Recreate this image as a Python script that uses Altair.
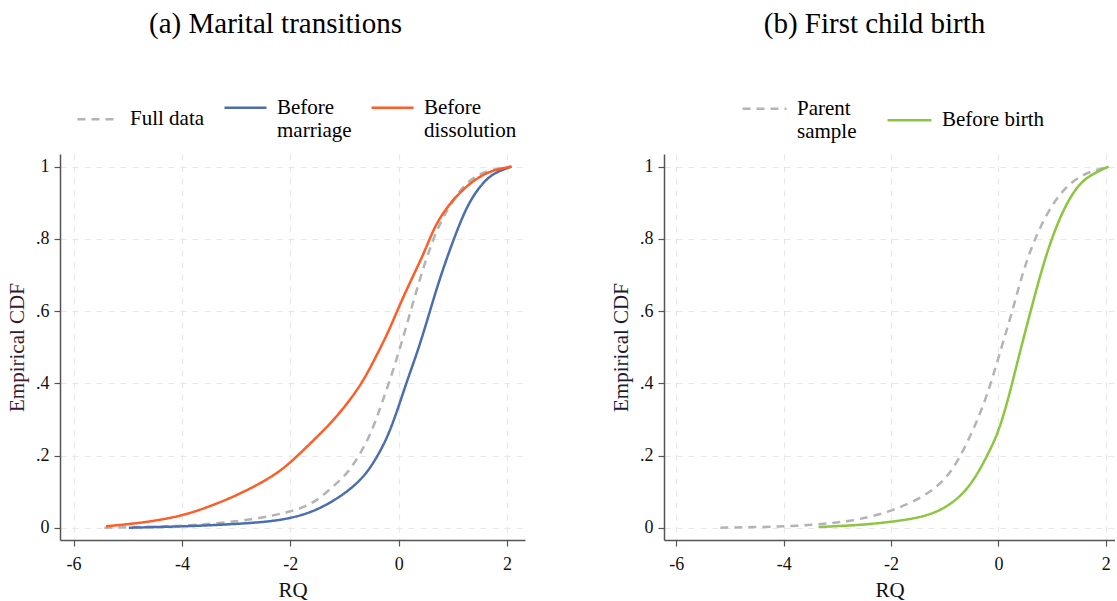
import altair as alt
import pandas as pd

# ---------------- data ----------------
A_SERIES = ["Full data", "Before marriage", "Before dissolution"]
A_FULL_X = [-5.43, -4.5, -3.83, -2.91, -2.30, -1.86, -1.53, -1.19, -0.94, -0.70, -0.51, -0.33, -0.14, 0.04, 0.23, 0.41, 0.60, 0.78, 1.03, 1.26, 1.51, 1.76, 2.08]
A_FULL_Y = [0.0, 0.003, 0.006, 0.018, 0.034, 0.050, 0.072, 0.117, 0.151, 0.207, 0.262, 0.336, 0.419, 0.505, 0.605, 0.700, 0.785, 0.850, 0.915, 0.957, 0.982, 0.993, 1.0]
A_MAR_X = [-4.98, -3.83, -2.91, -2.30, -1.86, -1.50, -1.19, -0.94, -0.63, -0.39, -0.20, -0.02, 0.16, 0.34, 0.53, 0.71, 0.90, 1.08, 1.26, 1.45, 1.64, 1.83, 2.08]
A_MAR_Y = [0.0, 0.004, 0.011, 0.018, 0.031, 0.050, 0.076, 0.101, 0.142, 0.198, 0.253, 0.327, 0.410, 0.484, 0.576, 0.668, 0.752, 0.825, 0.890, 0.936, 0.969, 0.987, 1.0]
A_DIS_X = [-5.40, -4.76, -4.20, -3.83, -3.40, -2.97, -2.54, -2.17, -1.86, -1.56, -1.25, -0.94, -0.66, -0.45, -0.20, -0.02, 0.23, 0.47, 0.66, 0.90, 1.15, 1.40, 1.64, 1.83, 2.08]
A_DIS_Y = [0.004, 0.013, 0.027, 0.041, 0.064, 0.091, 0.124, 0.158, 0.200, 0.244, 0.290, 0.345, 0.405, 0.465, 0.539, 0.604, 0.687, 0.761, 0.835, 0.890, 0.932, 0.964, 0.984, 0.993, 1.0]

B_SERIES = ["Parent sample", "Before birth"]
B_PAR_X = [-5.18, -4.36, -3.74, -3.12, -2.61, -1.99, -1.37, -0.99, -0.74, -0.50, -0.31, -0.12, 0.06, 0.25, 0.43, 0.62, 0.81, 1.06, 1.30, 1.61, 2.05]
B_PAR_Y = [0.0, 0.002, 0.005, 0.012, 0.022, 0.045, 0.087, 0.133, 0.188, 0.262, 0.327, 0.410, 0.502, 0.595, 0.696, 0.779, 0.844, 0.909, 0.950, 0.983, 1.0]
B_BIR_X = [-3.35, -2.61, -1.99, -1.37, -0.99, -0.68, -0.43, -0.19, 0.0, 0.19, 0.37, 0.56, 0.75, 0.93, 1.12, 1.30, 1.52, 1.74, 2.05]
B_BIR_Y = [0.002, 0.007, 0.016, 0.030, 0.055, 0.090, 0.138, 0.205, 0.265, 0.360, 0.470, 0.578, 0.685, 0.775, 0.850, 0.907, 0.955, 0.979, 1.0]

X_TICKS = [-6, -4, -2, 0, 2]
Y_TICKS = [0, 0.2, 0.4, 0.6, 0.8, 1]

GRAY = "#b4b4b4"
BLUE = "#4a6eb0"
ORANGE = "#ff5c26"
GREEN = "#8cc63f"
FONT = "Liberation Serif"


def frame(series, xs_list, ys_list):
    rows = []
    for s, xs, ys in zip(series, xs_list, ys_list):
        for x, y in zip(xs, ys):
            rows.append({"series": s, "x": x, "y": y})
    return pd.DataFrame(rows)


dfa = frame(A_SERIES, [A_FULL_X, A_MAR_X, A_DIS_X], [A_FULL_Y, A_MAR_Y, A_DIS_Y])
dfb = frame(B_SERIES, [B_PAR_X, B_BIR_X], [B_PAR_Y, B_BIR_Y])

Y_LABEL_EXPR = "datum.value == 0 ? '0' : (datum.value == 1 ? '1' : '.' + round(datum.value * 10))"
X_LABEL_EXPR = "datum.value < 0 ? '-' + abs(datum.value) : '' + datum.value"

AXIS_STYLE = dict(
    grid=True, gridDash=[6, 6], gridColor="#e8e8e8", gridWidth=1.2,
    domainColor="#555555", domainWidth=1.5,
    tickColor="#555555", tickWidth=1.2, tickSize=6,
    labelFont=FONT, labelFontSize=18, labelColor="#111111",
    titleFont=FONT, titleFontSize=21, titleFontWeight="normal",
)


def panel(df, series, colors, dashes, xdomain, width, title, ytitle_color,
          legend_x, col_pad, title_dx, label_expr, symbol_size):
    x_axis = alt.Axis(values=X_TICKS, title="RQ", labelExpr=X_LABEL_EXPR,
                      labelPadding=9, titlePadding=6, titleColor="#111111", **AXIS_STYLE)
    y_axis = alt.Axis(values=Y_TICKS, title="Empirical CDF", labelExpr=Y_LABEL_EXPR,
                      labelPadding=5, titlePadding=8, titleColor=ytitle_color, **AXIS_STYLE)
    legend = alt.Legend(
        title=None, orient="none", legendX=legend_x, legendY=-69,
        direction="horizontal", columns=len(series), columnPadding=col_pad,
        symbolType="stroke", symbolSize=symbol_size, symbolStrokeWidth=2.5,
        labelFont=FONT, labelFontSize=21, labelColor="#000000",
        labelLimit=300, labelOffset=9, labelBaseline="middle",
        labelExpr=label_expr,
    )
    return alt.Chart(df).mark_line(strokeWidth=2.5, interpolate="basis").encode(
        x=alt.X("x:Q", scale=alt.Scale(domain=xdomain, nice=False, zero=False), axis=x_axis),
        y=alt.Y("y:Q", scale=alt.Scale(domain=[-0.034, 1.035], nice=False, zero=False), axis=y_axis),
        color=alt.Color("series:N", scale=alt.Scale(domain=series, range=colors), legend=legend),
        strokeDash=alt.StrokeDash("series:N", scale=alt.Scale(domain=series, range=dashes), legend=legend),
    ).properties(
        width=width, height=386,
        title=alt.TitleParams(title, font=FONT, fontSize=29, fontWeight="normal", color="#000000",
                              anchor="middle", frame="group", offset=46, dx=title_dx),
    )


left = panel(dfa, A_SERIES, [GRAY, BLUE, ORANGE], [[8, 6], [1, 0], [1, 0]],
             [-6.25, 2.33], 465, "(a) Marital transitions", "#3a1830", 16, 14, -17,
             "datum.label == 'Full data' ? datum.label : split(datum.label, ' ')", 1764)
right = panel(dfb, B_SERIES, [GRAY, GREEN], [[8, 6], [1, 0]],
              [-6.23, 2.17], 451, "(b) First child birth", "#1c1a33", 77, 25, -15,
              "datum.label == 'Parent sample' ? ['Parent', 'sample'] : datum.label", 1936)

chart = alt.hconcat(left, right, spacing=139, bounds="flush").resolve_scale(
    color="independent", strokeDash="independent", x="independent", y="independent"
).resolve_legend(color="independent", strokeDash="independent").configure_view(
    stroke=None
).properties(
    padding={"left": 6, "top": 10, "right": 0, "bottom": 0}, background="white"
)

chart.save("out.html", embed_options={"renderer": "svg", "actions": False})
